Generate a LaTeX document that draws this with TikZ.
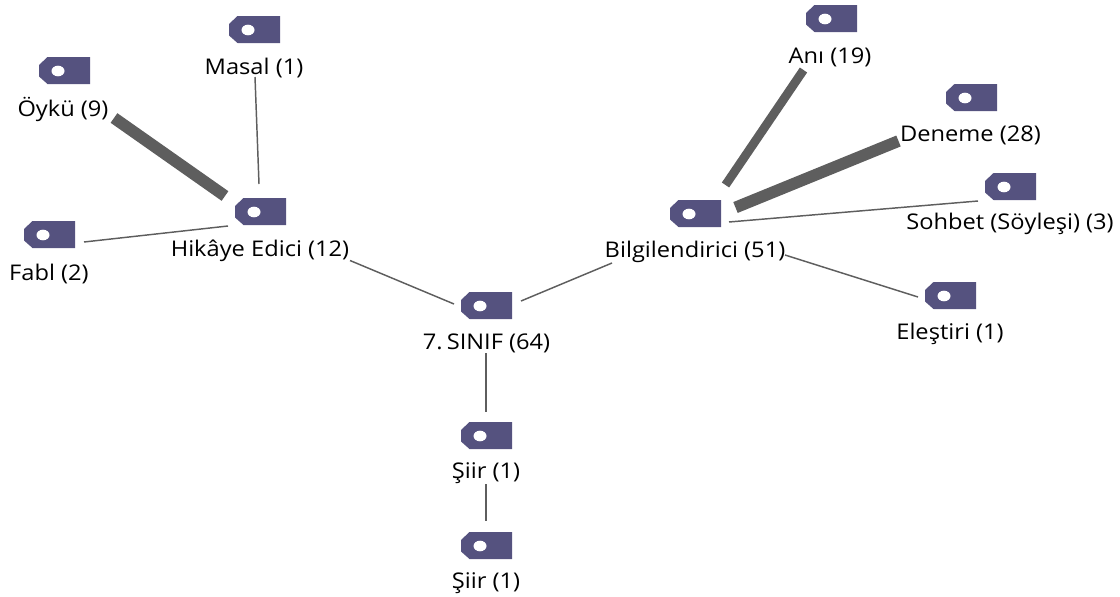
\documentclass[tikz,border=0pt]{standalone}
\usepackage{fontspec}
\setmainfont[FakeStretch=1.095]{Open Sans}
\usetikzlibrary{calc}
\definecolor{tagc}{HTML}{55527F}
\definecolor{linec}{HTML}{5E5E5E}
\tikzset{
  tagbox/.style={minimum width=38.25pt,minimum height=20.25pt,inner sep=0pt,outer sep=0pt,anchor=north west},
  lab/.style={font=\fontsize{16.2}{18}\selectfont,text=black,inner sep=0pt,anchor=center},
  thinl/.style={draw=linec,line width=1.1pt},
  midl/.style={draw=linec,line width=6.6pt},
  fatl/.style={draw=linec,line width=8.8pt}
}
\newcommand{\tagnode}[6]{% name, x, y, label, lx, ly
  \node[tagbox] (#1) at (#2,#3) {};
  \fill[tagc] ($(#1.north west)+(8.5,0)$) -- (#1.north east) -- (#1.south east)
     -- ($(#1.south west)+(8.5,0)$) -- ($(#1.south west)+(0,-7.5)$) -- ($(#1.north west)+(0,8)$) -- cycle;
  \fill[white] ($(#1.north west)+(19,14)$) ellipse [x radius=6.5,y radius=5.3];
  \node[lab] (#1-l) at (#5,#6) {#4};
}
\newcommand{\link}[5]{% style, a, ax ay, b, bx by offsets from tag centres
  \draw[#1] ($(#2.center)+(#3)$) -- ($(#4.center)+(#5)$);
}
\begin{document}
\begin{tikzpicture}[x=0.75pt,y=-0.75pt]
\useasboundingbox (0,0) rectangle (1120,596);
\tagnode{root}{461}{292}{7.\kern-1.5pt\ SINIF (64)}{486.5}{343.5}
\tagnode{siira}{461}{422}{Şiir (1)}{486}{473.5}
\tagnode{siirb}{461}{532}{Şiir (1)}{486}{583.5}
\tagnode{hik}{235}{198}{Hikâye Edici (12)}{260}{250.5}
\tagnode{masal}{229}{16}{Masal (1)}{254}{68.5}
\tagnode{oyku}{39}{57}{Öykü (9)}{63}{109.5}
\tagnode{fabl}{24}{221}{Fabl (2)}{49}{273.5}
\tagnode{bil}{670}{200}{Bilgilendirici (51)}{695}{251.5}
\tagnode{ani}{806}{5}{Anı (19)}{830}{57.5}
\tagnode{den}{946}{84}{Deneme (28)}{970.5}{135.5}
\tagnode{soh}{985}{173}{Sohbet (Söyleşi) (3)}{1010}{223.5}
\tagnode{ele}{925}{282}{Eleştiri (1)}{950}{333.5}
% connectors: end points are offsets from the centres of the two tags
\link{thinl}{masal}{0.5,47.5}{hik}{-1.5,-27.5}
\link{fatl}{oyku}{49.5,47.5}{hik}{-35.5,-15.5}
\link{thinl}{fabl}{34.5,7.5}{hik}{-32.5,14.5}
\link{thinl}{hik}{89.5,49}{root}{-32.5,-1.5}
\link{thinl}{bil}{-83.5,49.5}{root}{34.5,-4.5}
\link{midl}{ani}{-28,51.5}{bil}{30,-28.5}
\link{fatl}{den}{-73,43.5}{bil}{40,-6}
\link{thinl}{soh}{-32.5,14.5}{bil}{33.5,8.5}
\link{thinl}{bil}{89.5,41.5}{ele}{-32.5,1.5}
\link{thinl}{root}{-0.5,47.5}{siira}{-0.5,-23.5}
\link{thinl}{siira}{-0.5,48.5}{siirb}{-0.5,-24.5}
\end{tikzpicture}
\end{document}
